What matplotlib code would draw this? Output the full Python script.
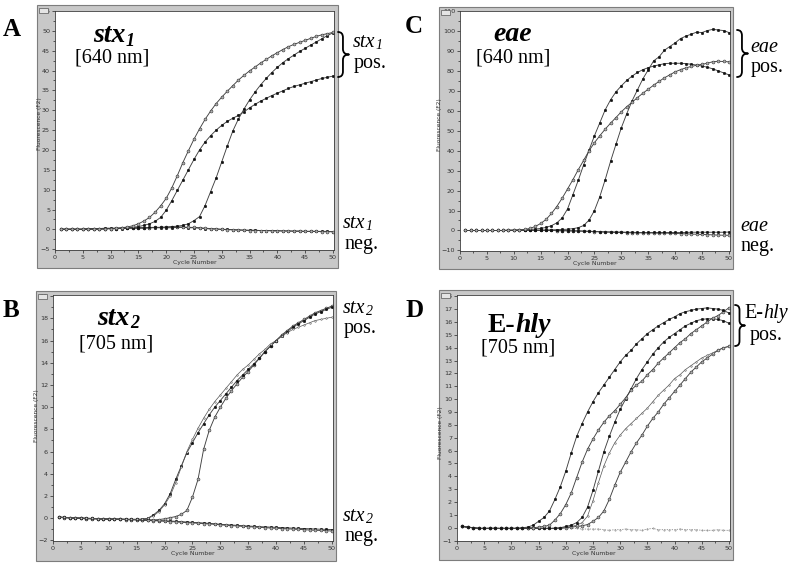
import matplotlib
matplotlib.use('Agg')
import matplotlib.pyplot as plt
from matplotlib.patches import Rectangle, PathPatch
from matplotlib.path import Path
from matplotlib.ticker import MultipleLocator

# ---------------- data ----------------
cycles = list(range(1, 51))

A_pos1 = [0.0,0.0,0.0,0.0,0.0,0.1,0.1,0.1,0.2,0.2, 0.3,0.4,0.6,0.9,1.4,2.1,3.0,4.3,5.9,7.8,
          10.4,13.5,16.8,19.8,22.7,25.3,27.7,29.8,31.7,33.3, 34.8,36.2,37.6,38.8,39.9,40.9,41.9,42.8,43.7,44.5,
          45.3,46.0,46.6,47.1,47.6,48.1,48.6,49.0,49.3,49.6]
A_pos2 = [0.0,0.0,0.0,0.0,0.0,0.0,0.1,0.1,0.1,0.2, 0.2,0.3,0.4,0.5,0.7,1.0,1.4,2.0,3.0,4.8,
          7.2,9.8,12.4,15.0,17.6,20.0,22.0,23.6,25.0,26.2, 27.2,28.0,28.7,29.6,30.6,31.5,32.3,33.0,33.7,34.3,
          34.9,35.5,36.0,36.4,36.8,37.2,37.6,38.0,38.3,38.6]
A_pos3 = [0.1,0.1,0.1,0.1,0.1,0.2,0.2,0.2,0.3,0.3, 0.3,0.3,0.4,0.4,0.4,0.4,0.5,0.5,0.5,0.6,
          0.7,0.8,1.0,1.4,2.2,3.2,6.0,9.5,13.0,17.0, 21.0,24.8,27.8,30.3,32.6,34.6,36.4,38.0,39.5,40.8,
          42.0,43.0,43.9,44.8,45.6,46.4,47.2,48.0,48.8,49.5]
A_neg1 = [0.0,0.0,0.0,0.0,0.0,0.0,0.1,0.1,0.1,0.2, 0.2,0.2,0.3,0.3,0.3,0.3,0.4,0.4,0.4,0.4,
          0.4,0.5,0.5,0.4,0.4,0.3,0.2,0.1,0.1,0.0, 0.0,-0.1,-0.1,-0.2,-0.2,-0.2,-0.3,-0.3,-0.3,-0.3,
          -0.4,-0.4,-0.4,-0.4,-0.5,-0.5,-0.5,-0.5,-0.5,-0.6]
A_neg2 = [0.0,0.0,0.0,0.0,0.0,0.1,0.1,0.1,0.2,0.2, 0.2,0.3,0.3,0.3,0.4,0.4,0.4,0.5,0.5,0.5,
          0.6,0.6,0.6,0.5,0.5,0.4,0.3,0.2,0.1,0.0, -0.1,-0.1,-0.2,-0.2,-0.3,-0.3,-0.3,-0.3,-0.4,-0.4,
          -0.4,-0.4,-0.5,-0.5,-0.5,-0.5,-0.5,-0.6,-0.6,-0.6]

B_pos1 = [0.10,0.08,0.06,0.04,0.02,0.00,-0.02,-0.04,-0.05,-0.06, -0.07,-0.08,-0.09,-0.10,-0.10,-0.08,0.0,0.3,0.7,1.3,
          2.2,3.5,4.7,5.9,6.8,7.7,8.5,9.3,10.0,10.6, 11.2,11.8,12.4,12.9,13.4,13.9,14.4,15.0,15.5,16.0,
          16.4,16.8,17.2,17.5,17.8,18.1,18.4,18.6,18.8,19.0]
B_pos2 = [0.10,0.08,0.06,0.04,0.02,0.00,-0.02,-0.04,-0.05,-0.06, -0.07,-0.08,-0.09,-0.10,-0.10,-0.08,0.0,0.2,0.6,1.2,
          2.0,3.2,4.6,6.0,7.1,8.1,9.0,9.8,10.5,11.1, 11.7,12.3,12.9,13.4,13.8,14.3,14.8,15.2,15.7,16.0,
          16.4,16.7,17.0,17.2,17.4,17.6,17.8,17.9,18.0,18.1]
B_pos3 = [0.10,0.08,0.06,0.04,0.02,0.00,-0.02,-0.04,-0.05,-0.06, -0.07,-0.08,-0.09,-0.10,-0.10,-0.12,-0.14,-0.15,-0.12,-0.05,
          0.05,0.15,0.35,0.7,1.9,3.5,6.2,7.9,9.1,10.0, 10.8,11.5,12.1,12.7,13.2,13.8,14.4,15.0,15.5,16.0,
          16.5,16.9,17.3,17.6,17.9,18.2,18.5,18.7,18.9,19.1]
B_neg1 = [0.10,0.06,0.02,0.0,-0.02,-0.04,-0.05,-0.06,-0.07,-0.08, -0.09,-0.10,-0.11,-0.12,-0.13,-0.15,-0.17,-0.19,-0.21,-0.23,
          -0.25,-0.28,-0.31,-0.34,-0.37,-0.40,-0.43,-0.46,-0.50,-0.54, -0.58,-0.61,-0.64,-0.67,-0.70,-0.73,-0.76,-0.78,-0.80,-0.82,
          -0.85,-0.87,-0.89,-0.91,-0.93,-0.95,-0.97,-0.99,-1.00,-1.02]
B_neg2 = [0.08,0.05,0.02,0.0,-0.02,-0.04,-0.05,-0.06,-0.07,-0.08, -0.09,-0.10,-0.12,-0.14,-0.16,-0.18,-0.20,-0.22,-0.24,-0.27,
          -0.30,-0.33,-0.36,-0.39,-0.42,-0.45,-0.48,-0.51,-0.55,-0.59, -0.63,-0.66,-0.70,-0.73,-0.76,-0.79,-0.82,-0.85,-0.88,-0.90,
          -0.93,-0.95,-0.98,-1.00,-1.03,-1.06,-1.08,-1.10,-1.12,-1.15]

C_pos1 = [0.0,0.0,0.0,0.0,0.0,0.0,0.0,0.0,0.1,0.2, 0.3,0.5,1.0,2.0,3.5,5.5,8.5,12.0,16.2,20.8,
          25.5,30.5,35.2,40.0,44.0,47.5,50.8,53.8,56.6,59.5, 62.0,64.3,66.6,68.8,70.8,72.8,74.7,76.5,78.0,79.5,
          80.6,81.5,82.2,82.8,83.3,83.8,84.6,84.8,84.7,84.5]
C_pos2 = [0.0,0.0,0.0,0.0,0.0,0.0,0.0,0.0,0.1,0.1, 0.2,0.3,0.5,0.7,1.0,1.5,2.4,3.8,6.3,10.8,
          18.0,25.2,33.0,40.3,47.5,54.0,60.5,65.5,69.5,72.5, 75.2,77.4,79.2,80.6,81.6,82.4,83.0,83.6,83.8,83.8,
          83.8,83.6,83.3,82.9,82.4,81.8,81.0,80.0,79.0,78.0]
C_pos3 = [0.0,0.0,0.0,0.0,0.0,0.0,0.0,0.0,0.1,0.1, 0.1,0.1,0.1,0.2,0.2,0.3,0.3,0.4,0.5,0.6,
          0.9,1.4,2.5,5.2,10.0,17.0,25.5,34.7,43.2,51.5, 58.5,65.0,70.5,76.0,80.5,85.0,87.0,90.3,92.2,94.0,
          96.2,97.4,98.4,99.4,99.2,100.2,100.8,100.5,100.2,99.2]
C_neg1 = [0.0,0.0,0.0,0.0,0.0,0.0,0.0,0.0,0.0,0.0, 0.0,0.0,0.0,0.0,0.0,0.0,0.0,-0.1,-0.1,-0.2,
          -0.2,-0.3,-0.4,-0.5,-0.6,-0.7,-0.8,-0.9,-1.0,-1.0, -1.1,-1.1,-1.2,-1.2,-1.2,-1.3,-1.3,-1.3,-1.4,-1.5,
          -1.6,-1.7,-1.8,-1.9,-2.0,-2.1,-2.2,-2.3,-2.4,-2.4]
C_neg2 = [0.0,0.0,0.0,0.0,0.0,0.0,0.0,0.0,0.0,0.0, 0.0,0.0,0.0,0.0,0.0,0.0,0.0,0.0,-0.1,-0.1,
          -0.2,-0.2,-0.3,-0.4,-0.5,-0.6,-0.7,-0.7,-0.8,-0.8, -0.9,-0.9,-1.0,-1.0,-1.0,-1.0,-1.0,-1.0,-1.0,-1.0,
          -1.0,-1.0,-0.9,-0.9,-0.9,-0.9,-0.9,-0.9,-0.9,-0.8]

D_pos1 = [0.1,0.05,0.0,-0.05,-0.05,-0.05,-0.05,-0.05,-0.05,-0.05, -0.03,0.0,0.05,0.2,0.5,0.8,1.3,2.2,3.2,4.4,
          5.8,7.1,8.1,9.0,9.8,10.5,11.1,11.7,12.3,12.9, 13.4,13.8,14.3,14.7,15.1,15.4,15.7,15.95,16.2,16.4,
          16.65,16.8,16.9,17.0,17.05,17.1,17.05,17.0,16.9,16.7]
D_pos2 = [0.1,0.05,0.0,-0.05,-0.05,-0.05,-0.05,-0.05,-0.05,-0.05, -0.05,-0.05,0.0,0.0,0.05,0.1,0.2,0.6,1.1,1.8,
          2.7,3.9,5.1,6.1,6.9,7.6,8.2,8.7,9.1,9.6, 10.1,10.7,11.1,11.4,11.9,12.3,12.8,13.2,13.6,14.0,
          14.4,14.7,15.1,15.4,15.7,16.0,16.3,16.5,16.8,17.1]
D_pos3 = [0.1,0.05,0.0,-0.05,-0.05,-0.05,-0.05,-0.05,-0.05,-0.05, -0.05,-0.05,-0.05,-0.05,-0.05,-0.05,-0.05,-0.05,0.0,0.1,
          0.2,0.4,0.8,1.6,2.9,4.4,5.9,7.1,8.2,9.2, 10.0,10.8,11.6,12.3,12.9,13.5,14.0,14.45,14.8,15.1,
          15.4,15.7,15.9,16.1,16.2,16.25,16.25,16.2,16.1,15.9]
D_pos4 = [0.1,0.05,0.0,-0.05,-0.05,-0.05,-0.05,-0.05,-0.05,-0.05, -0.05,-0.05,-0.05,-0.05,-0.05,-0.05,-0.05,-0.05,0.0,0.05,
          0.1,0.2,0.4,0.9,2.1,3.5,4.8,5.8,6.6,7.2, 7.7,8.1,8.5,8.9,9.3,9.8,10.3,10.7,11.1,11.6,
          11.9,12.3,12.6,12.9,13.2,13.4,13.6,13.8,14.0,14.1]
D_pos5 = [0.1,0.05,0.0,-0.05,-0.05,-0.05,-0.05,-0.05,-0.05,-0.05, -0.05,-0.05,-0.05,-0.05,-0.05,-0.05,-0.05,-0.05,-0.05,0.0,
          0.05,0.1,0.15,0.25,0.5,0.8,1.3,2.2,3.3,4.3, 5.1,5.9,6.6,7.2,7.9,8.5,9.0,9.6,10.1,10.6,
          11.1,11.6,12.1,12.5,12.9,13.2,13.5,13.8,14.0,14.1]
D_neg = [0.05,0.05,0.0,0.0,0.0,0.0,0.0,0.0,0.0,0.0, 0.0,0.0,0.0,0.0,0.0,0.0,0.0,0.0,0.0,-0.05,
         -0.05,-0.05,-0.1,-0.1,-0.1,-0.1,-0.15,-0.2,-0.15,-0.15, -0.1,-0.15,-0.15,-0.2,-0.1,-0.05,-0.15,-0.15,-0.15,-0.15,
         -0.1,-0.15,-0.15,-0.15,-0.2,-0.2,-0.2,-0.15,-0.2,-0.2]

x_ticks = [0, 5, 10, 15, 20, 25, 30, 35, 40, 45, 50]
x_label = 'Cycle Number'
y_label = 'Fluorescence (F2)'

# ---------------- figure ----------------
W, H = 800, 566
fig = plt.figure(figsize=(8, 5.66), dpi=100)
fig.patch.set_facecolor('white')

SERIF = 'Liberation Serif'
LINE = '#404040'


def fx(x):
    return x / W


def fy(y):
    return 1 - y / H


STYLES = {
    'f': dict(marker='o', ms=1.9, mfc='#111111', mec='#111111', mew=0.3, lw=0.65, color=LINE),
    'o': dict(marker='o', ms=2.1, mfc='#b0b0b0', mec='#333333', mew=0.4, lw=0.65, color=LINE),
    't': dict(marker='o', ms=1.2, mfc='#cccccc', mec='#555555', mew=0.3, lw=0.5, color='#555555'),
    'd': dict(marker='.', ms=0.8, lw=0.6, ls=(0, (1.5, 1.5)), color='#8a8a8a'),
}


def panel(frame, plot, ylim, ymaj, ymin, series, ylab_xy):
    x0, y0, x1, y1 = frame
    fig.add_artist(Rectangle((fx(x0), fy(y1)), (x1 - x0) / W, (y1 - y0) / H,
                             transform=fig.transFigure, facecolor='#c8c8c8',
                             edgecolor='#7d7d7d', lw=0.8, zorder=-5))
    px0, py0, px1, py1 = plot
    ax = fig.add_axes([fx(px0), fy(py1), (px1 - px0) / W, (py1 - py0) / H])
    ax.set_facecolor('white')
    for ys, st in series:
        ax.plot(cycles, ys, **STYLES[st])
    ax.set_xlim(0, 50.2)
    ax.set_ylim(*ylim)
    ax.set_xticks(x_ticks)
    ax.xaxis.set_minor_locator(MultipleLocator(2.5))
    ax.yaxis.set_major_locator(MultipleLocator(ymaj))
    if ymin:
        ax.yaxis.set_minor_locator(MultipleLocator(ymin))
    ax.tick_params(which='both', direction='out', color='#222222', width=0.5,
                   labelsize=4.6, labelcolor='#333333', pad=1.2)
    ax.tick_params(which='major', length=2.4)
    ax.tick_params(which='minor', length=1.4)
    for sp in ax.spines.values():
        sp.set_color('#3a3a3a')
        sp.set_linewidth(0.6)
    ax.set_xlabel(x_label, fontsize=4.4, color='#333333', labelpad=0.3)
    ax.set_ylabel(y_label, fontsize=4.2, color='#333333')
    ax.yaxis.set_label_coords(*ylab_xy)
    # small application icon in the frame corner
    fig.add_artist(Rectangle((fx(x0 + 2), fy(y0 + 8)), 9 / W, 5 / H,
                             transform=fig.transFigure, facecolor='#e4e4e4',
                             edgecolor='#555555', lw=0.5, zorder=5))
    return ax


axA = panel((37, 5, 338, 268), (55, 11, 334, 250), (-5.2, 55), 5, 2.5,
            [(A_neg1, 'f'), (A_neg2, 'o'), (A_pos3, 'f'), (A_pos2, 'f'), (A_pos1, 'o')],
            (-0.045, 0.53))
axC = panel((439, 7, 733, 269), (460, 11, 730, 251), (-10.3, 110), 10, 5,
            [(C_neg1, 'o'), (C_neg2, 'f'), (C_pos3, 'f'), (C_pos2, 'f'), (C_pos1, 'o')],
            (-0.065, 0.525))
axB = panel((36, 291, 336, 561), (53, 295, 333, 541), (-2.05, 20.1), 2, 1,
            [(B_neg1, 'f'), (B_neg2, 'o'), (B_pos3, 'o'), (B_pos1, 'f'), (B_pos2, 't')],
            (-0.05, 0.51))
axD = panel((439, 290, 733, 560), (457, 295, 730, 541), (-1.03, 18.1), 1, None,
            [(D_neg, 'd'), (D_pos5, 'o'), (D_pos4, 't'), (D_pos3, 'f'), (D_pos2, 'o'), (D_pos1, 'f')],
            (-0.05, 0.44))

# ---------------- annotation layer (pixel coordinates) ----------------
top = fig.add_axes([0, 0, 1, 1], zorder=10)
top.set_xlim(0, W)
top.set_ylim(H, 0)
top.axis('off')
top.patch.set_alpha(0)


def rich(x, y, parts, sub_dy):
    """parts: list of (text, size, style, weight, kind) kind: 'n' normal or 's' subscript"""
    prev = None
    for txt, size, style, weight, kind in parts:
        kw = dict(fontsize=size, fontstyle=style, fontweight=weight, family=SERIF, color='black')
        if prev is None:
            prev = top.text(x, y, txt, va='baseline', ha='left', **kw)
        elif kind == 's':
            prev = top.annotate(txt, xy=(1, 0), xycoords=prev, xytext=(0.4, sub_dy),
                                textcoords='offset points', va='baseline', ha='left', **kw)
        else:
            prev = top.annotate(txt, xy=(1, 0), xycoords=prev, xytext=(0, 0),
                                textcoords='offset points', va='bottom', ha='left', **kw)
    return prev


def label(x, y, txt, size=14.5, ha='left', weight='normal', style='normal'):
    top.text(x, y, txt, fontsize=size, family=SERIF, ha=ha, va='baseline',
             fontweight=weight, fontstyle=style, color='black')


def brace(x0, ytop, ybot, w):
    xm = x0 + w * 0.45
    xt = x0 + w
    ym = (ytop + ybot) / 2
    d = w * 0.5
    verts = [(x0, ytop), (xm, ytop), (xm, ytop + d), (xm, ym - d), (xm, ym), (xt, ym),
             (xm, ym), (xm, ym + d), (xm, ybot - d), (xm, ybot), (x0, ybot)]
    codes = [Path.MOVETO, Path.CURVE3, Path.CURVE3, Path.LINETO, Path.CURVE3, Path.CURVE3,
             Path.CURVE3, Path.CURVE3, Path.LINETO, Path.CURVE3, Path.CURVE3]
    top.add_patch(PathPatch(Path(verts, codes), fill=False, lw=1.3, edgecolor='black',
                            capstyle='round', joinstyle='round'))


# panel letters
label(3, 36, 'A', size=18, weight='bold')
label(405, 33, 'C', size=18, weight='bold')
label(3, 317, 'B', size=18, weight='bold')
label(406, 317, 'D', size=18, weight='bold')

# titles inside panels
rich(93, 42, [('stx', 20, 'italic', 'bold', 'n'), ('1', 13, 'italic', 'bold', 's')], 1.8)
label(112, 63, '[640 nm]', ha='center')
rich(97, 325, [('stx', 20, 'italic', 'bold', 'n'), ('2', 13, 'italic', 'bold', 's')], 1.8)
label(116, 349, '[705 nm]', ha='center')
label(513, 41, 'eae', size=20, ha='center', weight='bold', style='italic')
label(513, 63, '[640 nm]', ha='center')
rich(488, 332, [('E-', 20, 'normal', 'bold', 'n'), ('hly', 20, 'italic', 'bold', 'n')], 0)
label(518, 353, '[705 nm]', ha='center')

# right-hand annotations
brace(338, 32, 77, 11)
rich(353, 47, [('stx', 14.5, 'italic', 'normal', 'n'), ('1', 10, 'italic', 'normal', 's')], 2.4)
label(354, 68, 'pos.')
rich(343, 228, [('stx', 14.5, 'italic', 'normal', 'n'), ('1', 10, 'italic', 'normal', 's')], 2.4)
label(344, 249, 'neg.')

rich(343, 313, [('stx', 14.5, 'italic', 'normal', 'n'), ('2', 10, 'italic', 'normal', 's')], 2.4)
label(344, 333, 'pos.')
rich(343, 521, [('stx', 14.5, 'italic', 'normal', 'n'), ('2', 10, 'italic', 'normal', 's')], 2.4)
label(344, 541, 'neg.')

brace(737, 30, 77, 11)
label(750, 52, 'eae', style='italic')
label(751, 72, 'pos.')
label(740, 231, 'eae', style='italic')
label(740, 251, 'neg.')

brace(735, 305, 346, 10)
rich(744, 318, [('E-', 14.5, 'normal', 'normal', 'n'), ('hly', 14.5, 'italic', 'normal', 'n')], 0)
label(750, 340, 'pos.')

fig.savefig('out.png', dpi=100, facecolor='white')
